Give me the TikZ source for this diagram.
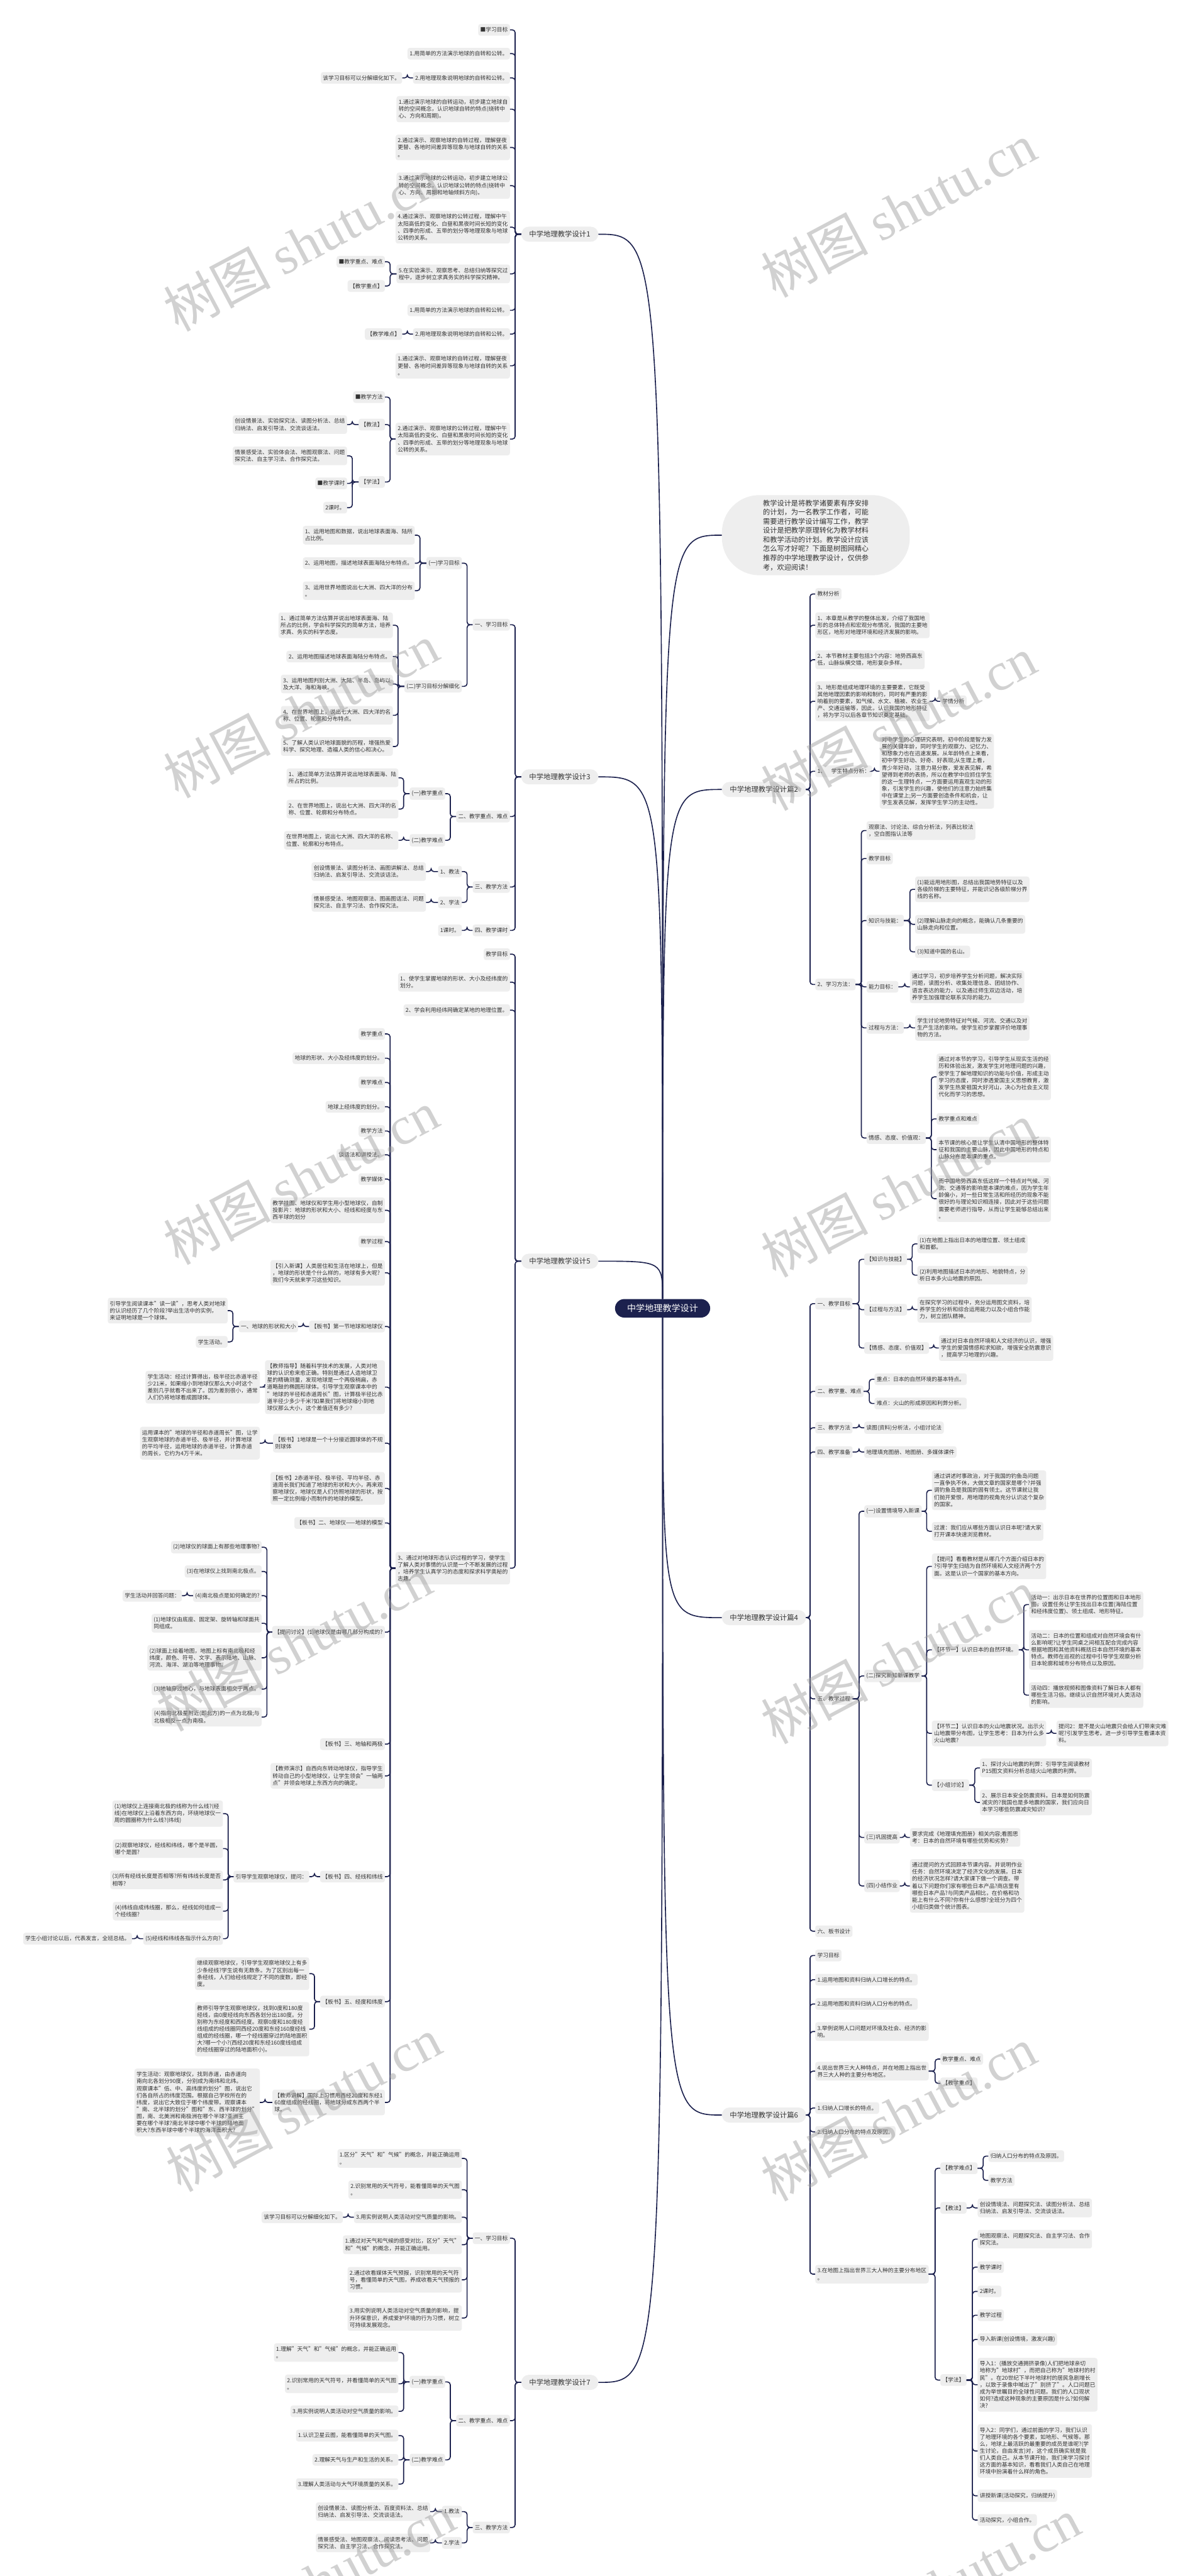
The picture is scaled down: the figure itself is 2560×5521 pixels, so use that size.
\documentclass[tikz,border=0pt]{standalone}
\usepackage{fontspec}
\setmainfont{Noto Sans CJK SC}
\newfontfamily\wmlatin{Liberation Serif}
\definecolor{mmnavy}{RGB}{28,33,78}
\definecolor{boxgray}{RGB}{238,238,238}
\definecolor{txt}{RGB}{51,51,51}
\newcommand\leaffont{\fontsize{11.8}{15}\selectfont}
\newcommand\brfont{\fontsize{15.3}{19}\selectfont}
\newcommand\ctrfont{\fontsize{19}{23}\selectfont}
\newcommand\introfont{\fontsize{15.1}{19.6}\selectfont}
\newcommand\nodeL[4]{\node[leaf,anchor=east] (#1) at (#2,#3) {#4};}
\newcommand\nodeR[4]{\node[leaf,anchor=west] (#1) at (#2,#3) {#4};}
\newcommand\conL[2]{\draw[conn] (#2.east) -- ++(11,0) |- (#1.west);}
\newcommand\conR[2]{\draw[conn] (#2.west) -- ++(-11,0) |- (#1.east);}
\tikzset{
 leaf/.style={fill=boxgray, rounded corners=5pt, inner xsep=4.5pt, inner ysep=7pt, font=\leaffont, text=txt, align=left},
 branch/.style={fill=boxgray, rounded corners=16pt, inner xsep=17pt, inner ysep=9pt, font=\brfont, text=txt, anchor=west},
 ctrnode/.style={fill=mmnavy, rounded corners=20pt, inner xsep=26pt, inner ysep=11pt, font=\ctrfont, text=white},
 intro/.style={fill=boxgray, rounded corners=80pt, inner xsep=88pt, inner ysep=10pt, font=\introfont, text=txt, align=left, anchor=west},
 conn/.style={draw=mmnavy, line width=2.2pt, rounded corners=6pt},
 ccurve/.style={draw=mmnavy, line width=2.2pt},
 wm/.style={rotate=28, text=black!40, text opacity=0.45, font=\fontsize{115}{115}\selectfont, inner sep=0pt}
}
\begin{document}
\begin{tikzpicture}[x=1pt,y=-1pt]
\fill[white] (0,0) rectangle (2560,5521);
\useasboundingbox (0,0) rectangle (2560,5521);

% ===== center and intro =====
\node[ctrnode] (C) at (1420,2804) {中学地理教学设计};
\node[intro] (I) at (1547,1147) {教学设计是将教学诸要素有序安排\\的计划，为一名教学工作者，可能\\需要进行教学设计编写工作，教学\\设计是把教学原理转化为教学材料\\和教学活动的计划。教学设计应该\\怎么写才好呢？下面是树图网精心\\推荐的中学地理教学设计，仅供参\\考，欢迎阅读！};

% ===== branch nodes =====
\node[branch] (B1) at (1117,502) {中学地理教学设计1};
\node[branch] (B3) at (1117,1665) {中学地理教学设计3};
\node[branch] (B5) at (1117,2703) {中学地理教学设计5};
\node[branch] (B7) at (1117,5106) {中学地理教学设计7};
\node[branch] (R2) at (1547,1692) {中学地理教学设计篇2};
\node[branch] (R4) at (1547,3467) {中学地理教学设计篇4};
\node[branch] (R6) at (1547,4533) {中学地理教学设计篇6};

\draw[ccurve] (C.north) .. controls (C.north |- B1.east) .. (B1.east);
\draw[ccurve] (C.north) .. controls (C.north |- B3.east) .. (B3.east);
\draw[ccurve] (C.north) .. controls (C.north |- B5.east) .. (B5.east);
\draw[ccurve] (C.south) .. controls (C.south |- B7.east) .. (B7.east);
\draw[ccurve] (C.north) .. controls (C.north |- I.west) .. (I.west);
\draw[ccurve] (C.north) .. controls (C.north |- R2.west) .. (R2.west);
\draw[ccurve] (C.south) .. controls (C.south |- R4.west) .. (R4.west);
\draw[ccurve] (C.south) .. controls (C.south |- R6.west) .. (R6.west);

% ===== B1 =====
\nodeL{a0}{1093}{64}{■学习目标}
\nodeL{a1}{1093}{115}{1.用简单的方法演示地球的自转和公转。}
\nodeL{a2}{1093}{167}{2.用地理现象说明地球的自转和公转。}
\nodeL{a2a}{862}{167}{该学习目标可以分解细化如下。}
\nodeL{a3}{1093}{234}{1.通过演示地球的自转运动，初步建立地球自\\转的空间概念，认识地球自转的特点(绕转中\\心、方向和周期)。}
\nodeL{a4}{1093}{316}{2.通过演示、观察地球的自转过程，理解昼夜\\更替、各地时间差异等现象与地球自转的关系\\。}
\nodeL{a5}{1093}{398}{3.通过演示地球的公转运动，初步建立地球公\\转的空间概念，认识地球公转的特点(绕转中\\心、方向、周期和地轴倾斜方向)。}
\nodeL{a6}{1093}{487}{4.通过演示、观察地球的公转过程，理解中午\\太阳高低的变化、白昼和黑夜时间长短的变化\\、四季的形成、五带的划分等地理现象与地球\\公转的关系。}
\nodeL{a7}{1093}{587}{5.在实验演示、观察思考、总结归纳等探究过\\程中，逐步树立求真务实的科学探究精神。}
\nodeL{a7a}{825}{561}{■教学重点、难点}
\nodeL{a7b}{825}{613}{【教学重点】}
\nodeL{a8}{1093}{665}{1.用简单的方法演示地球的自转和公转。}
\nodeL{a9}{1093}{716}{2.用地理现象说明地球的自转和公转。}
\nodeL{a9a}{862}{716}{【教学难点】}
\nodeL{a10}{1093}{784}{1.通过演示、观察地球的自转过程，理解昼夜\\更替、各地时间差异等现象与地球自转的关系\\。}
\nodeL{a11}{1093}{941}{2.通过演示、观察地球的公转过程，理解中午\\太阳高低的变化、白昼和黑夜时间长短的变化\\、四季的形成、五带的划分等地理现象与地球\\公转的关系。}
\nodeL{a11a}{825}{851}{■教学方法}
\nodeL{a11b}{825}{910}{【教法】}
\nodeL{a11c}{825}{1033}{【学法】}
\nodeL{a11b1}{744}{910}{创设情景法、实验探究法、读图分析法、总结\\归纳法、启发引导法、交流谈话法。}
\nodeL{a11c1}{744}{977}{情景感受法、实验体会法、地图观察法、问题\\探究法、自主学习法、合作探究法。}
\nodeL{a11c2}{744}{1036}{■教学课时}
\nodeL{a11c3}{744}{1088}{2课时。}
\foreach \c in {a0,a1,a2,a3,a4,a5,a6,a7,a8,a9,a10,a11} {\conL{B1}{\c}}
\conL{a2}{a2a} \conL{a7}{a7a} \conL{a7}{a7b} \conL{a9}{a9a}
\conL{a11}{a11a} \conL{a11}{a11b} \conL{a11}{a11c}
\conL{a11b}{a11b1} \conL{a11c}{a11c1} \conL{a11c}{a11c2} \conL{a11c}{a11c3}

% ===== B3 =====
\nodeL{b1}{1093}{1339}{一、学习目标}
\nodeL{b2}{1093}{1750}{二、教学重点、难点}
\nodeL{b3}{1093}{1901}{三、教学方法}
\nodeL{b4}{1093}{1994}{四、教学课时}
\nodeL{b11}{990}{1207}{(一)学习目标}
\nodeL{b12}{990}{1471}{(二)学习目标分解细化}
\nodeL{b111}{889}{1147}{1、运用地图和数据，说出地球表面海、陆所\\占比例。}
\nodeL{b112}{889}{1207}{2、运用地图，描述地球表面海陆分布特点。}
\nodeL{b113}{889}{1266}{3、运用世界地图说出七大洲、四大洋的分布\\。}
\nodeL{b121}{842}{1340}{1、通过简单方法估算并说出地球表面海、陆\\所占的比例，学会科学探究的简单方法，培养\\求真、务实的科学态度。}
\nodeL{b122}{842}{1407}{2、运用地图描述地球表面海陆分布特点。}
\nodeL{b123}{842}{1466}{3、运用地图判别大洲、大陆、半岛、岛屿以\\及大洋、海和海峡。}
\nodeL{b124}{842}{1533}{4、在世界地图上，说出七大洲、四大洋的名\\称、位置、轮廓和分布特点。}
\nodeL{b125}{842}{1600}{5、了解人类认识地球面貌的历程，增强热爱\\科学、探究地理、造福人类的信心和决心。}
\nodeL{b21}{954}{1701}{(一)教学重点}
\nodeL{b22}{954}{1801}{(二)教学难点}
\nodeL{b211}{854}{1667}{1、通过简单方法估算并说出地球表面海、陆\\所占的比例。}
\nodeL{b212}{854}{1734}{2、在世界地图上，说出七大洲、四大洋的名\\称、位置、轮廓和分布特点。}
\nodeL{b221}{854}{1801}{在世界地图上，说出七大洲、四大洋的名称、\\位置、轮廓和分布特点。}
\nodeL{b31}{990}{1868}{1、教法}
\nodeL{b32}{990}{1934}{2、学法}
\nodeL{b311}{913}{1868}{创设情景法、读图分析法、画图讲解法、总结\\归纳法、启发引导法、交流谈话法。}
\nodeL{b321}{913}{1934}{情景感受法、地图观察法、图画图话法、问题\\探究法、自主学习法、合作探究法。}
\nodeL{b41}{990}{1994}{1课时。}
\foreach \c in {b1,b2,b3,b4} {\conL{B3}{\c}}
\conL{b1}{b11} \conL{b1}{b12}
\foreach \c in {b111,b112,b113} {\conL{b11}{\c}}
\foreach \c in {b121,b122,b123,b124,b125} {\conL{b12}{\c}}
\conL{b2}{b21} \conL{b2}{b22} \conL{b21}{b211} \conL{b21}{b212} \conL{b22}{b221}
\conL{b3}{b31} \conL{b3}{b32} \conL{b31}{b311} \conL{b32}{b321} \conL{b4}{b41}

% ===== B5 =====
\nodeL{c1}{1093}{2045}{教学目标}
\nodeL{c2}{1093}{2105}{1、使学生掌握地球的形状、大小及经纬度的\\划分。}
\nodeL{c3}{1093}{2165}{2、学会利用经纬网确定某地的地理位置。}
\nodeL{c4}{1093}{3361}{3、通过对地球形态认识过程的学习，使学生\\了解人类对事情的认识是一个不断发展的过程\\，培养学生认真学习的态度和探求科学奥秘的\\志趣。}
\nodeL{d1}{825}{2216}{教学重点}
\nodeL{d2}{825}{2268}{地球的形状、大小及经纬度的划分。}
\nodeL{d3}{825}{2320}{教学难点}
\nodeL{d4}{825}{2372}{地球上经纬度的划分。}
\nodeL{d5}{825}{2424}{教学方法}
\nodeL{d6}{825}{2475}{谈话法和讲授法。}
\nodeL{d7}{825}{2527}{教学媒体}
\nodeL{d8}{825}{2594}{教学挂图、地球仪和学生用小型地球仪，自制\\投影片：地球的形状和大小、经线和经度与东\\西半球的划分}
\nodeL{d9}{825}{2661}{教学过程}
\nodeL{d10}{825}{2728}{【引入新课】人类居住和生活在地球上，但是\\，地球的形状是个什么样的，地球有多大呢?\\我们今天就来学习这些知识。}
\nodeL{d11}{825}{2843}{【板书】第一节地球和地球仪}
\nodeL{d12}{825}{2973}{【教师指导】随着科学技术的发展，人类对地\\球的认识愈来愈正确。特别是通过人造地球卫\\星的精确测量，发现地球是一个两极稍扁，赤\\道略鼓的椭圆形球体。引导学生观察课本中的\\"地球的半径和赤道周长"图，计算极半径比赤\\道半径少多少千米?如果我们将地球缩小到地\\球仪那么大小，这个差值还有多少?}
\nodeL{d13}{825}{3093}{【板书】1地球是一个十分接近圆球体的不规\\则球体}
\nodeL{d14}{825}{3190}{【板书】2赤道半径、极半径、平均半径、赤\\道周长我们知道了地球的形状和大小，再来观\\察地球仪，地球仪是人们仿照地球的形状，按\\照一定比例缩小而制作的地球的模型。}
\nodeL{d15}{825}{3264}{【板书】二、地球仪——地球的模型}
\nodeL{d16}{825}{3498}{【提问讨论】(1)地球仪是由哪几部分构成的?}
\nodeL{d17}{825}{3738}{【板书】三、地轴和两极}
\nodeL{d18}{825}{3806}{【教师演示】自西向东转动地球仪，指导学生\\转动自己的小型地球仪，让学生领会"一轴两\\点"并领会地球上东西方向的确定。}
\nodeL{d19}{825}{4022}{【板书】四、经线和纬线}
\nodeL{d20}{825}{4290}{【板书】五、经度和纬度}
\nodeL{d21}{825}{4506}{【教师讲解】国际上习惯用西经20度和东经1\\60度组成的经线圈，将地球分成东西两个半\\球。}
\nodeL{e1}{639}{2843}{一、地球的形状和大小}
\nodeL{e11}{488}{2809}{引导学生阅读课本"读一读"，思考人类对地球\\的认识经历了几个阶段?举出生活中的实例，\\来证明地球是一个球体。}
\nodeL{e12}{488}{2876}{学生活动。}
\nodeL{d12a}{557}{2973}{学生活动：经过计算得出，极半径比赤道半径\\少21米，如果缩小到地球仪那么大小时这个\\差别几乎就看不出来了。因为差别很小，通常\\人们仍将地球看成圆球体。}
\nodeL{d13a}{557}{3093}{运用课本的"地球的半径和赤道周长"图，让学\\生观察地球的赤道半径、极半径，并计算地球\\的平均半径，运用地球的赤道半径，计算赤道\\的周长，它约为4万千米。}
\nodeL{f1}{561}{3316}{(2)地球仪的球面上有那些地理事物?}
\nodeL{f2}{561}{3368}{(3)在地球仪上找到南北极点。}
\nodeL{f3}{561}{3420}{(4)南北极点是如何确定的?}
\nodeL{f3a}{390}{3420}{学生活动并回答问题：}
\nodeL{f4}{561}{3479}{(1)地球仪由底座、固定架、旋转轴和球面共\\同组成。}
\nodeL{f5}{561}{3553}{(2)球面上绘着地图，地图上标有南北极和经\\纬度，颜色、符号、文字、表示陆地、山脉、\\河流、海洋、湖泊等地理事物。}
\nodeL{f6}{561}{3620}{(3)地轴穿过地心，与地球表面相交于两点。}
\nodeL{f7}{561}{3680}{(4)指向北极星附近(即北方)的一点为北极;与\\北极相反一点为南极。}
\nodeL{g0}{663}{4022}{引导学生观察地球仪，提问：}
\nodeL{g1}{478}{3887}{(1)地球仪上连接南北极的线称为什么线?(经\\线)在地球仪上沿着东西方向，环绕地球仪一\\周的圆圈称为什么线?(纬线)}
\nodeL{g2}{478}{3962}{(2)观察地球仪，经线和纬线，哪个是半圆，\\哪个是圆?}
\nodeL{g3}{478}{4029}{(3)所有经线长度是否相等?所有纬线长度是否\\相等?}
\nodeL{g4}{478}{4096}{(4)纬线自成纬线圈，那么，经线如何组成一\\个经线圈?}
\nodeL{g5}{478}{4155}{(5)经线和纬线各指示什么方向?}
\nodeL{g5a}{283}{4155}{学生小组讨论以后，代表发言，全班总结。}
\nodeL{h1}{663}{4230}{继续观察地球仪，引导学生观察地球仪上有多\\少条经线?学生说有无数条。为了区别出每一\\条经线，人们给经线规定了不同的度数，即经\\度。}
\nodeL{h2}{663}{4349}{教师引导学生观察地球仪，找到0度和180度\\经线，由0度经线向东西各划分出180度。分\\别称为东经度和西经度。观察0度和180度经\\线组成的经线圈同西经20度和东经160度经线\\组成的经线圈，哪一个经线圈穿过的陆地面积\\大?哪一个小?(西经20度和东经160度线组成\\的经线圈穿过的陆地面积小)。}
\nodeL{i1}{557}{4506}{学生活动：观察地球仪，找到赤道，由赤道向\\南向北各划分90度，分别成为南纬和北纬。\\观察课本"低、中、高纬度的划分"图，说出它\\们各自所占的纬度范围。根据自己学校所在的\\纬度，说出它大致位于哪个纬度带。观察课本\\"南、北半球的划分"图和"东、西半球的划分"\\图，南、北美洲和南极洲在哪个半球?亚洲主\\要在哪个半球?南北半球中哪个半球的陆地面\\积大?东西半球中哪个半球的海洋面积大?}
\foreach \c in {c1,c2,c3,c4} {\conL{B5}{\c}}
\foreach \c in {d1,d2,d3,d4,d5,d6,d7,d8,d9,d10,d11,d12,d13,d14,d15,d16,d17,d18,d19,d20,d21} {\conL{c4}{\c}}
\conL{d11}{e1} \conL{e1}{e11} \conL{e1}{e12}
\conL{d12}{d12a} \conL{d13}{d13a}
\foreach \c in {f1,f2,f3,f4,f5,f6,f7} {\conL{d16}{\c}}
\conL{f3}{f3a}
\conL{d19}{g0}
\foreach \c in {g1,g2,g3,g4,g5} {\conL{g0}{\c}}
\conL{g5}{g5a}
\conL{d20}{h1} \conL{d20}{h2} \conL{d21}{i1}

% ===== B7 =====
\nodeL{k1}{1093}{4797}{一、学习目标}
\nodeL{k2}{1093}{5188}{二、教学重点、难点}
\nodeL{k3}{1093}{5417}{三、教学方法}
\nodeL{k11}{990}{4626}{1.区分"天气"和"气候"的概念，并能正确运用\\。}
\nodeL{k12}{990}{4693}{2.识别常用的天气符号，能看懂简单的天气图\\。}
\nodeL{k13}{990}{4752}{3.用实例说明人类活动对空气质量的影响。}
\nodeL{k13a}{735}{4752}{该学习目标可以分解细化如下。}
\nodeL{k14}{990}{4811}{1.通过对天气和气候的感受对比，区分"天气"\\和"气候"的概念，并能正确运用。}
\nodeL{k15}{990}{4886}{2.通过收看媒体天气预报，识别常用的天气符\\号，看懂简单的天气图，养成收看天气预报的\\习惯。}
\nodeL{k16}{990}{4968}{3.用实例说明人类活动对空气质量的影响，提\\升环保意识，养成爱护环境的行为习惯，树立\\可持续发展观念。}
\nodeL{k21}{954}{5105}{(一)教学重点}
\nodeL{k22}{954}{5272}{(二)教学难点}
\nodeL{k211}{854}{5042}{1.理解"天气"和"气候"的概念，并能正确运用\\。}
\nodeL{k212}{854}{5109}{2.识别常用的天气符号，并看懂简单的天气图\\。}
\nodeL{k213}{854}{5168}{3.用实例说明人类活动对空气质量的影响。}
\nodeL{k221}{854}{5220}{1.认识卫星云图，能看懂简单的天气图。}
\nodeL{k222}{854}{5272}{2.理解天气与生产和生活的关系。}
\nodeL{k223}{854}{5324}{3.理解人类活动与大气环境质量的关系。}
\nodeL{k31}{990}{5383}{1.教法}
\nodeL{k32}{990}{5450}{2.学法}
\nodeL{k311}{922}{5383}{创设情景法、读图分析法、百度资料法、总结\\归纳法、启发引导法、交流谈话法。}
\nodeL{k321}{922}{5450}{情景感受法、地图观察法、阅读思考法、问题\\探究法、自主学习法、合作探究法。}
\foreach \c in {k1,k2,k3} {\conL{B7}{\c}}
\foreach \c in {k11,k12,k13,k14,k15,k16} {\conL{k1}{\c}}
\conL{k13}{k13a}
\conL{k2}{k21} \conL{k2}{k22}
\foreach \c in {k211,k212,k213} {\conL{k21}{\c}}
\foreach \c in {k221,k222,k223} {\conL{k22}{\c}}
\conL{k3}{k31} \conL{k3}{k32} \conL{k31}{k311} \conL{k32}{k321}

% ===== R2 =====
\nodeR{r1}{1747}{1273}{教材分析}
\nodeR{r2}{1747}{1340}{1、本章是从教学的整体出发，介绍了我国地\\形的总体特点和宏观分布情况，我国的主要地\\形区，地形对地理环境和经济发展的影响。}
\nodeR{r3}{1747}{1414}{2、本节教材主要包括3个内容：地势西高东\\低，山脉纵横交错，地形复杂多样。}
\nodeR{r4}{1747}{1503}{3、地形是组成地理环境的主要要素，它既受\\其他地理因素的影响和制约，同时有严重的影\\响着别的要素，如气候、水文、植被、农业生\\产、交通运输等，因此，认识我国的地形特征\\，将为学习以后各章节知识奠定基础。}
\nodeR{r4a}{2015}{1503}{学情分析}
\nodeR{r5}{1747}{1653}{1、　学生特点分析：}
\nodeR{r5a}{1885}{1653}{对中学生的心理研究表明，初中阶段是智力发\\展的关键年龄，同时学生的观察力、记忆力、\\和想象力也在迅速发展。从年龄特点上来看，\\初中学生好动、好奇、好表现;从生理上看，\\青少年好动，注意力易分散，爱发表见解，希\\望得到老师的表扬，所以在教学中应抓住学生\\的这一生理特点，一方面要运用直观生动的形\\象，引发学生的兴趣，使他们的注意力始终集\\中在课堂上;另一方面要创造条件和机会，让\\学生发表见解，发挥学生学习的主动性。}
\nodeR{r6}{1747}{2110}{2、学习方法：}
\nodeR{s1}{1857}{1780}{观察法、讨论法、综合分析法，列表比较法\\，空白图指认法等}
\nodeR{s2}{1857}{1840}{教学目标}
\nodeR{s3}{1857}{1973}{知识与技能：}
\nodeR{s4}{1857}{2115}{能力目标：}
\nodeR{s5}{1857}{2203}{过程与方法：}
\nodeR{s6}{1857}{2439}{情感、态度、价值观：}
\nodeR{s31}{1961}{1906}{(1)能运用地形图，总结出我国地势特征以及\\各级阶梯的主要特征，并能识记各级阶梯分界\\线的名称。}
\nodeR{s32}{1961}{1981}{(2)理解山脉走向的概念，能确认几条重要的\\山脉走向和位置。}
\nodeR{s33}{1961}{2040}{(3)知道中国的名山。}
\nodeR{s41}{1950}{2115}{通过学习，初步培养学生分析问题，解决实际\\问题，读图分析、收集处理信息、团结协作、\\语言表达的能力，以及通过师生双边活动，培\\养学生加强理论联系实际的能力。}
\nodeR{s51}{1961}{2203}{学生讨论地势特征对气候、河流、交通以及对\\生产生活的影响。使学生初步掌握评价地理事\\物的方法。}
\nodeR{s61}{2007}{2308}{通过对本节的学习，引导学生从现实生活的经\\历和体验出发，激发学生对地理问题的兴趣，\\使学生了解地理知识的功能与价值，形成主动\\学习的态度，同时渗透爱国主义思想教育，激\\发学生热爱祖国大好河山，决心为社会主义现\\代化而学习的思想。}
\nodeR{s62}{2007}{2398}{教学重点和难点}
\nodeR{s63}{2007}{2464}{本节课的核心是让学生认清中国地形的整体特\\征和我国的主要山脉，因此中国地形的特点和\\山脉分布是本课的重点。}
\nodeR{s64}{2007}{2569}{而中国地势西高东低这样一个特点对气候、河\\流、交通等的影响是本课的难点，因为学生年\\龄偏小，对一些日常生活和所经历的现象不能\\很好的与理论知识相连接，因此对于这些问题\\需要老师进行指导，从而让学生能够总结出来\\。}
\foreach \c in {r1,r2,r3,r4,r5,r6} {\conR{R2}{\c}}
\conR{r4}{r4a} \conR{r5}{r5a}
\foreach \c in {s1,s2,s3,s4,s5,s6} {\conR{r6}{\c}}
\conR{s3}{s31} \conR{s3}{s32} \conR{s3}{s33} \conR{s4}{s41} \conR{s5}{s51}
\foreach \c in {s61,s62,s63,s64} {\conR{s6}{\c}}

% ===== R4 =====
\nodeR{t1}{1747}{2794}{一、教学目标}
\nodeR{t2}{1747}{2982}{二、教学重、难点}
\nodeR{t3}{1747}{3060}{三、教学方法}
\nodeR{t4}{1747}{3112}{四、教学准备}
\nodeR{t5}{1747}{3641}{五、教学过程}
\nodeR{t6}{1747}{4139}{六、板书设计}
\nodeR{t11}{1852}{2699}{【知识与技能】}
\nodeR{t12}{1852}{2807}{【过程与方法】}
\nodeR{t13}{1852}{2889}{【情感、态度、价值观】}
\nodeR{t111}{1966}{2666}{(1)在地图上指出日本的地理位置、领土组成\\和首都。}
\nodeR{t112}{1966}{2733}{(2)利用地图描述日本的地形、地貌特点，分\\析日本多火山地震的原因。}
\nodeR{t121}{1966}{2807}{在探究学习的过程中，充分运用图文资料，培\\养学生的分析和综合运用能力以及小组合作能\\力，树立团队精神。}
\nodeR{t131}{2012}{2889}{通过对日本自然环境和人文经济的认识，增强\\学生的爱国情感和求知欲，增强安全防震意识\\，提高学习地理的兴趣。}
\nodeR{t21}{1874}{2956}{重点：日本的自然环境的基本特点。}
\nodeR{t22}{1874}{3008}{难点：火山的形成原因和利弊分析。}
\nodeR{t31}{1852}{3060}{读图(资料)分析法，小组讨论法}
\nodeR{t41}{1852}{3112}{地理填充图册、地图册、多媒体课件}
\nodeR{t51}{1852}{3239}{(一)设置情境导入新课}
\nodeR{t52}{1852}{3592}{(二)探究新知新课教学}
\nodeR{t53}{1852}{3938}{(三)巩固提高}
\nodeR{t54}{1852}{4042}{(四)小结作业}
\nodeR{t511}{1997}{3194}{通过讲述时事政治，对于我国的钓鱼岛问题\\一直争执不休，大做文章的国家是哪个?并强\\调钓鱼岛是我国的固有领土。这节课就让我\\们抛开爱恨，用地理的视角充分认识这个复杂\\的国家。}
\nodeR{t512}{1997}{3282}{过渡：我们应从哪些方面认识日本呢?请大家\\打开课本快速浏览教材。}
\nodeR{t521}{1997}{3357}{【提问】看看教材是从哪几个方面介绍日本的\\?引导学生归结为自然环境和人文经济两个方\\面。这是认识一个国家的基本方向。}
\nodeR{t522}{1997}{3536}{【环节一】认识日本的自然环境。}
\nodeR{t523}{1997}{3715}{【环节二】认识日本的火山地震状况。出示火\\山地震带分布图，让学生思考：日本为什么多\\火山地震?}
\nodeR{t524}{1997}{3826}{【小组讨论】}
\nodeR{t5221}{2205}{3439}{活动一：出示日本在世界的位置图和日本地形\\图，设置任务让学生找出日本位置(海陆位置\\和经纬度位置)、领土组成、地形特征。}
\nodeR{t5222}{2205}{3536}{活动二：日本的位置和组成对自然环境会有什\\么影响呢?让学生同桌之间相互配合完成内容\\根据地图和其他资料概括日本自然环境的基本\\特点。教师在巡视的过程中引导学生观察分析\\日本轮廓和城市分布特点以及原因。}
\nodeR{t5223}{2205}{3633}{活动四：播放视频和图像资料了解日本人都有\\哪些生活习俗。继续认识自然环境对人类活动\\的影响。}
\nodeR{t5231}{2264}{3715}{提问2：是不是火山地震只会给人们带来灾难\\呢?引发学生思考。进一步引导学生看课本资\\料。}
\nodeR{t5241}{2100}{3789}{1、探讨火山地震的利弊：引导学生阅读教材\\P15图文资料分析总结火山地震的利弊。}
\nodeR{t5242}{2100}{3863}{2、展示日本安全防震资料。日本是如何防震\\减灾的?我国也是多地震的国家，我们应向日\\本学习哪些防震减灾知识?}
\nodeR{t531}{1950}{3938}{要求完成《地理填充图册》相关内容;看图思\\考：日本的自然环境有哪些优势和劣势?}
\nodeR{t541}{1950}{4042}{通过提问的方式回顾本节课内容。并说明作业\\任务：自然环境决定了经济文化的发展。日本\\的经济状况怎样?请大家课下做一个调查。带\\着以下问题你们家有哪些日本产品?商店里有\\哪些日本产品?与同类产品相比，在价格和功\\能上有什么不同?你有什么感想?全班分为四个\\小组归类做个统计图表。}
\foreach \c in {t1,t2,t3,t4,t5,t6} {\conR{R4}{\c}}
\conR{t1}{t11} \conR{t1}{t12} \conR{t1}{t13}
\conR{t11}{t111} \conR{t11}{t112} \conR{t12}{t121} \conR{t13}{t131}
\conR{t2}{t21} \conR{t2}{t22} \conR{t3}{t31} \conR{t4}{t41}
\foreach \c in {t51,t52,t53,t54} {\conR{t5}{\c}}
\conR{t51}{t511} \conR{t51}{t512}
\foreach \c in {t521,t522,t523,t524} {\conR{t52}{\c}}
\foreach \c in {t5221,t5222,t5223} {\conR{t522}{\c}}
\conR{t523}{t5231} \conR{t524}{t5241} \conR{t524}{t5242}
\conR{t53}{t531} \conR{t54}{t541}

% ===== R6 =====
\nodeR{u1}{1747}{4191}{学习目标}
\nodeR{u2}{1747}{4243}{1.运用地图和资料归纳人口增长的特点。}
\nodeR{u3}{1747}{4295}{2.运用地图和资料归纳人口分布的特点。}
\nodeR{u4}{1747}{4354}{3.举例说明人口问题对环境及社会、经济的影\\响。}
\nodeR{u5}{1747}{4439}{4.说出世界三大人种特点，并在地图上指出世\\界三大人种的主要分布地区。}
\nodeR{u6}{1747}{4518}{1.归纳人口增长的特点。}
\nodeR{u7}{1747}{4569}{2.归纳人口分布的特点及原因。}
\nodeR{u8}{1747}{4874}{3.在地图上指出世界三大人种的主要分布地区\\。}
\nodeR{u51}{2015}{4413}{教学重点、难点}
\nodeR{u52}{2015}{4465}{【教学重点】}
\nodeR{u81}{2015}{4647}{【教学难点】}
\nodeR{u82}{2015}{4732}{【教法】}
\nodeR{u83}{2015}{5101}{【学法】}
\nodeR{u811}{2118}{4621}{归纳人口分布的特点及原因。}
\nodeR{u812}{2118}{4673}{教学方法}
\nodeR{u821}{2095}{4732}{创设情境法、问题探究法、读图分析法、总结\\归纳法、启发引导法、交流谈话法。}
\nodeR{v1}{2095}{4799}{地图观察法、问题探究法、自主学习法、合作\\探究法。}
\nodeR{v2}{2095}{4859}{教学课时}
\nodeR{v3}{2095}{4911}{2课时。}
\nodeR{v4}{2095}{4962}{教学过程}
\nodeR{v5}{2095}{5014}{导入新课(创设情境，激发兴趣)}
\nodeR{v6}{2095}{5111}{导入1：(播放交通拥挤录像)人们把地球亲切\\地称为"地球村"，而把自己称为"地球村的村\\民"。在20世纪下半叶地球村的居民急剧增长\\，以致于录像中喊出了"别挤了"。人口问题已\\成为举世瞩目的全球性问题。我们的人口现状\\如何?造成这种现象的主要原因是什么?如何解\\决?}
\nodeR{v7}{2095}{5253}{导入2：同学们，通过前面的学习，我们认识\\了地理环境的各个要素，如地形、气候等。那\\么，地球上最活跃的最重要的成员是谁呢?(学\\生讨论，自由发言)对，这个成员确实就是我\\们人类自己。从本节课开始，我们来学习探讨\\这方面的基本知识，看看我们人类自己在地理\\环境中扮演着什么样的角色。}
\nodeR{v8}{2095}{5349}{讲授新课(活动探究，归纳提升)}
\nodeR{v9}{2095}{5401}{活动探究，小组合作。}
\foreach \c in {u1,u2,u3,u4,u5,u6,u7,u8} {\conR{R6}{\c}}
\conR{u5}{u51} \conR{u5}{u52}
\conR{u8}{u81} \conR{u8}{u82} \conR{u8}{u83}
\conR{u81}{u811} \conR{u81}{u812} \conR{u82}{u821}
\foreach \c in {v1,v2,v3,v4,v5,v6,v7,v8,v9} {\conR{u83}{\c}}

% ===== watermarks =====
\foreach \p in {(645,523),(645,1523),(645,2523),(630,3523),(650,4510),(680,5530),(1925,450),(1925,1550),(1925,2550),(1925,3550),(1925,4530),(2020,5540)}
 {\node[wm] at \p {树图 {\wmlatin shutu.cn}};}
\end{tikzpicture}
\end{document}
